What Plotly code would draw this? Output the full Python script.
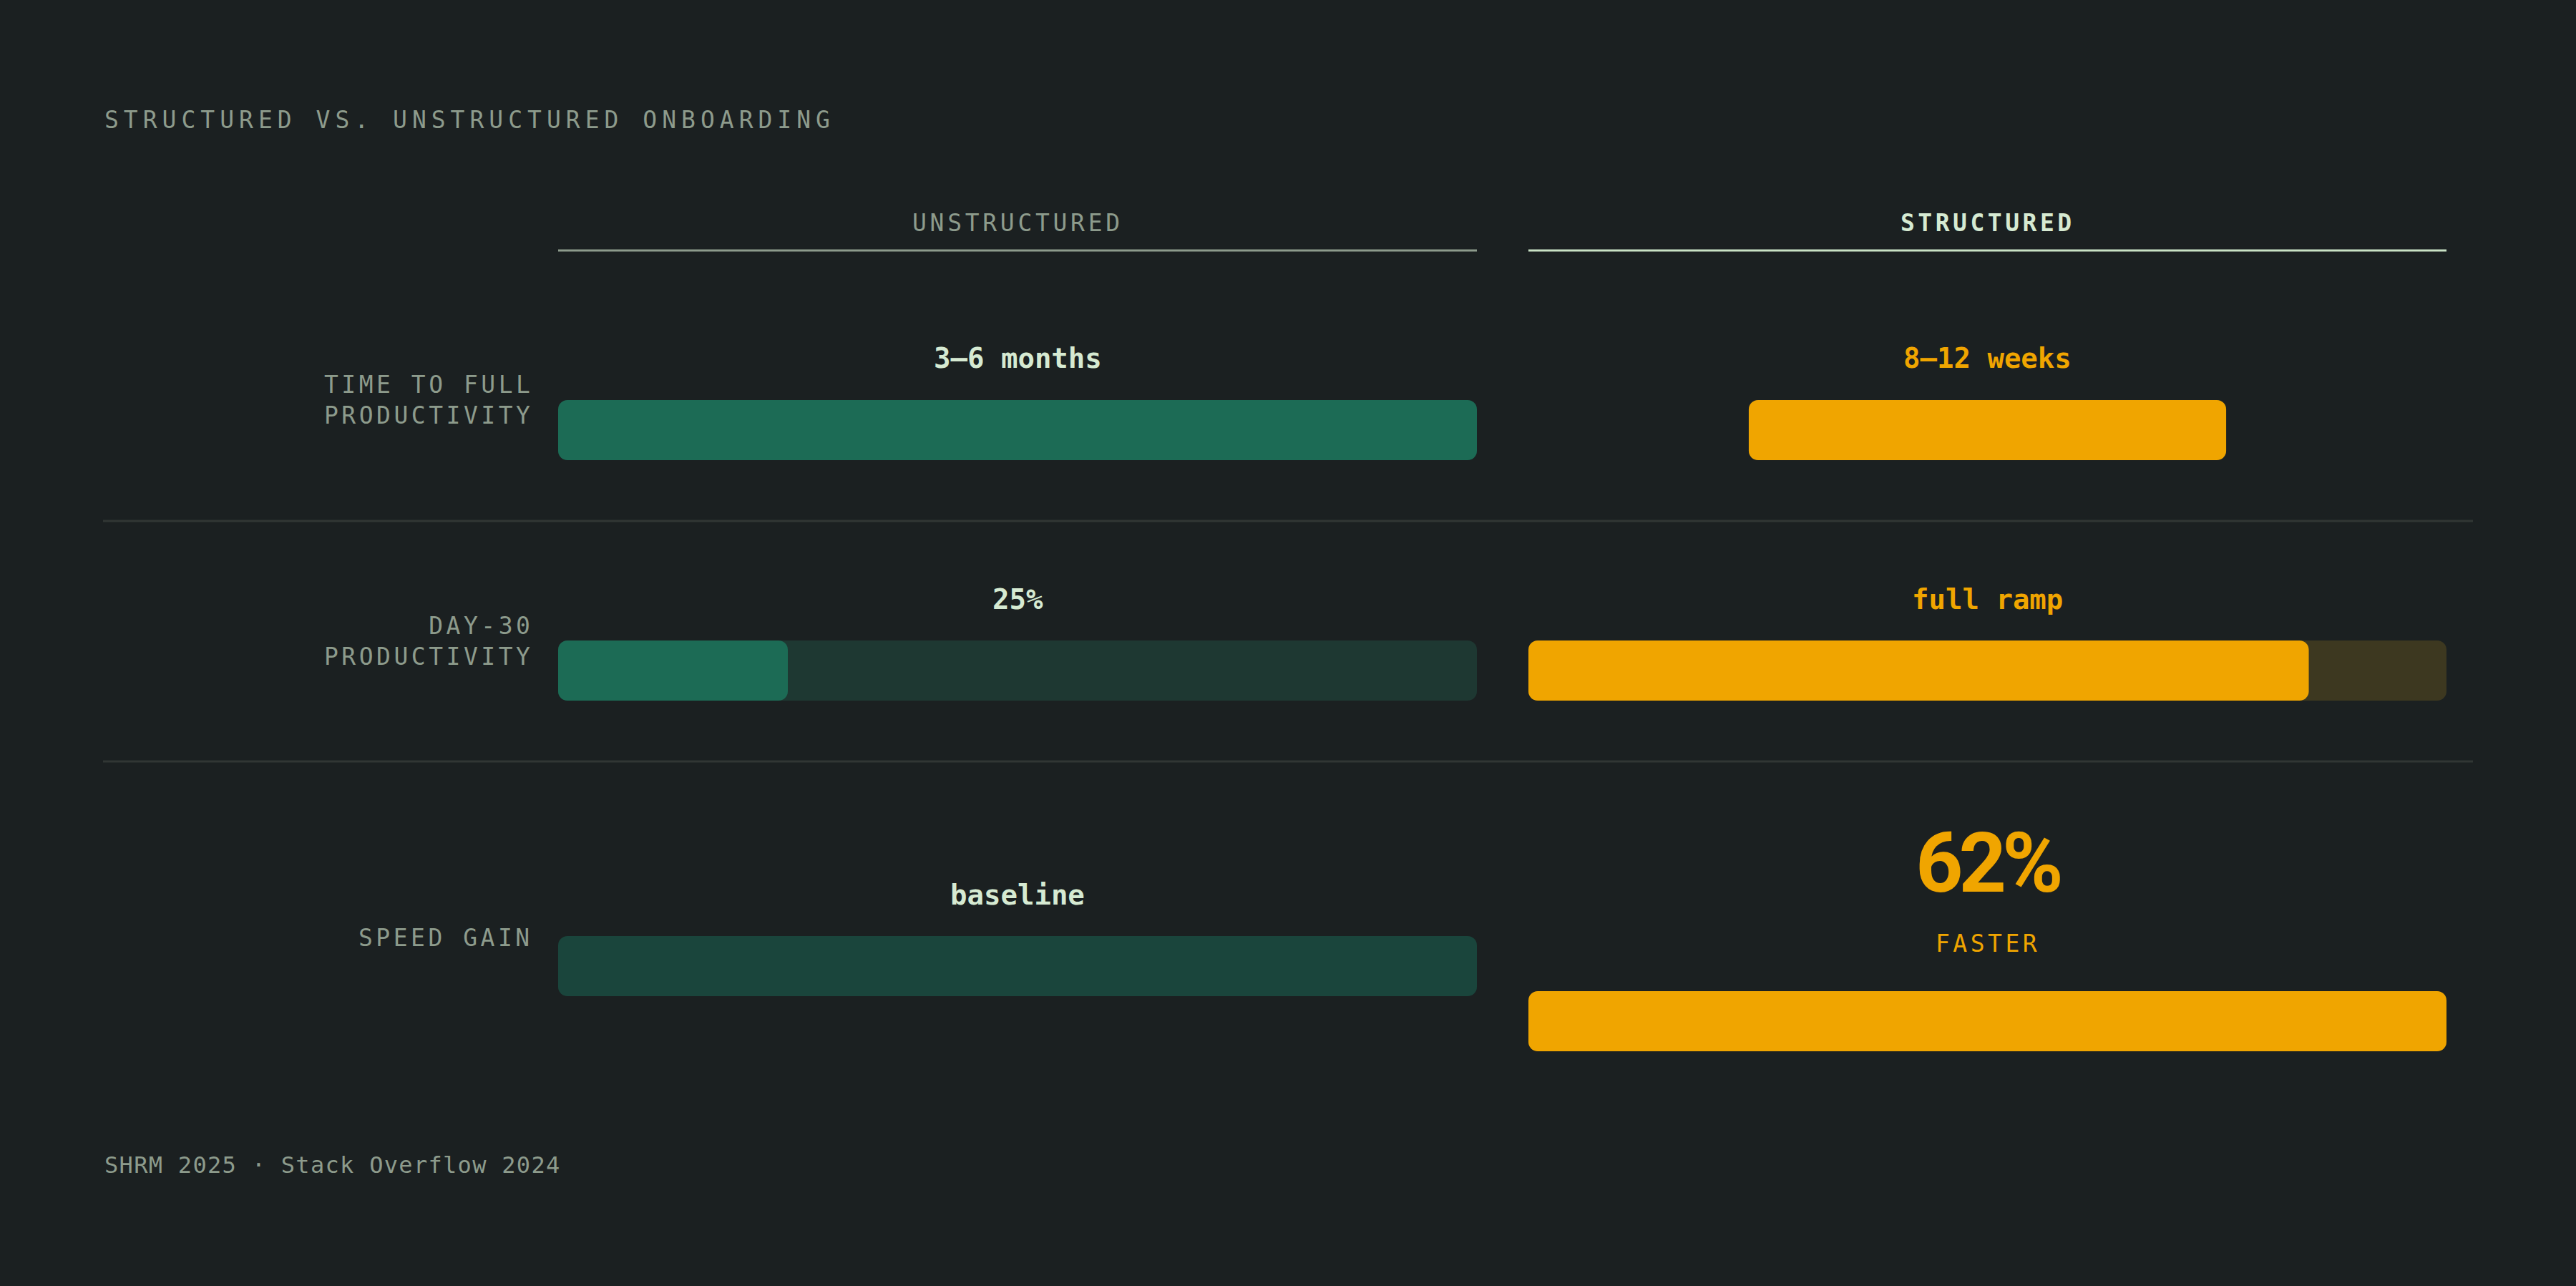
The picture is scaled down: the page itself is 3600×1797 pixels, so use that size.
import plotly.graph_objects as go

W, H = 3600, 1797

# ---------------- data ----------------
title = "STRUCTURED VS. UNSTRUCTURED ONBOARDING"
footer = "SHRM 2025 · Stack Overflow 2024"
columns = ["UNSTRUCTURED", "STRUCTURED"]
categories = ["TIME TO FULL<br>PRODUCTIVITY", "DAY-30<br>PRODUCTIVITY", "SPEED GAIN"]
unstructured_labels = ["3–6 months", "25%", "baseline"]
structured_labels = ["8–12 weeks", "full ramp", "62%"]
unstructured_values = [1.0, 0.25, 1.0]
structured_values = [0.52, 0.85, 1.0]
track_values = [None, 1.0, None]
speed_gain_sublabel = "FASTER"

# ---------------- layout / style ----------------
BG = "#1b2021"
GRAY = "#8d9b8c"
MINT = "#d6ead2"
ORANGE = "#f0a500"
GREEN_FILL = "#1c6b55"
GREEN_TRACK = "#1e3832"
GREEN_BASE = "#1a453c"
ORANGE_TRACK = "#3d3820"
SEP = "#313634"
MONO = "DejaVu Sans Mono"

bar_y_left = [601, 937, 1350]
bar_y_right = [601, 937, 1427]
label_y = [559, 896, 1310]
value_y_left = [500, 837, 1250]
value_y_right = [500, 837, 1206]
BAR_H = 84
RADIUS = 13

left_dom = [780 / W, 2064 / W]
right_dom = [2136 / W, 3419 / W]

fig = go.Figure()

# tracks
left_fill_colors = [GREEN_FILL, GREEN_FILL, GREEN_BASE]
for i, tv in enumerate(track_values):
    if tv is None:
        continue
    fig.add_trace(go.Bar(x=[tv], y=[bar_y_left[i]], base=[0], orientation="h",
                         width=BAR_H, marker=dict(color=GREEN_TRACK, cornerradius=RADIUS, line=dict(width=0)),
                         xaxis="x", yaxis="y", hoverinfo="skip", showlegend=False))
    fig.add_trace(go.Bar(x=[tv], y=[bar_y_right[i]], base=[0], orientation="h",
                         width=BAR_H, marker=dict(color=ORANGE_TRACK, cornerradius=RADIUS, line=dict(width=0)),
                         xaxis="x2", yaxis="y", hoverinfo="skip", showlegend=False))

# fills
for i, v in enumerate(unstructured_values):
    fig.add_trace(go.Bar(x=[v], y=[bar_y_left[i]], base=[0], orientation="h",
                         width=BAR_H, marker=dict(color=left_fill_colors[i], cornerradius=RADIUS, line=dict(width=0)),
                         xaxis="x", yaxis="y", hoverinfo="skip", showlegend=False))
for i, v in enumerate(structured_values):
    base = (1 - v) / 2 if track_values[i] is None and v < 1 else 0
    fig.add_trace(go.Bar(x=[v], y=[bar_y_right[i]], base=[base], orientation="h",
                         width=BAR_H, marker=dict(color=ORANGE, cornerradius=RADIUS, line=dict(width=0)),
                         xaxis="x2", yaxis="y", hoverinfo="skip", showlegend=False))


def spaced(text, px):
    return f'<span style="letter-spacing:{px}px">{text}</span>'


ann = []
# title
ann.append(dict(text=spaced(title, 7), x=144 / W, xref="paper", y=167, yref="y",
                xanchor="left", yanchor="middle", showarrow=False,
                font=dict(family=MONO, size=33, color=GRAY)))
# footer
ann.append(dict(text=spaced(footer, 1.3), x=144 / W, xref="paper", y=1628, yref="y",
                xanchor="left", yanchor="middle", showarrow=False,
                font=dict(family=MONO, size=32, color=GRAY)))
# column headers
ann.append(dict(text=spaced(columns[0], 4.7), x=0.5, xref="x", y=311, yref="y",
                xanchor="center", yanchor="middle", showarrow=False,
                font=dict(family=MONO, size=33, color=GRAY)))
ann.append(dict(text=spaced("<b>" + columns[1] + "</b>", 4.5), x=0.5, xref="x2", y=311, yref="y",
                xanchor="center", yanchor="middle", showarrow=False,
                font=dict(family=MONO, size=33, color=MINT)))
# row labels
for i, c in enumerate(categories):
    ann.append(dict(text=spaced(c, 4.5), x=747 / W, xref="paper", y=label_y[i], yref="y",
                    xanchor="right", yanchor="middle", showarrow=False, align="right",
                    font=dict(family=MONO, size=33, color=GRAY)))
# value labels
for i, t in enumerate(unstructured_labels):
    ann.append(dict(text="<b>" + t + "</b>", x=0.5, xref="x", y=value_y_left[i], yref="y",
                    xanchor="center", yanchor="middle", showarrow=False,
                    font=dict(family=MONO, size=39, color=MINT)))
for i, t in enumerate(structured_labels):
    if i == 2:
        ann.append(dict(text=spaced("<b>" + t + "</b>", -6), x=0.5, xref="x2", y=value_y_right[i], yref="y",
                        xanchor="center", yanchor="middle", showarrow=False,
                        font=dict(family="Roboto", size=116, color=ORANGE)))
        ann.append(dict(text=spaced(speed_gain_sublabel, 4.5), x=0.5, xref="x2", y=1318, yref="y",
                        xanchor="center", yanchor="middle", showarrow=False,
                        font=dict(family=MONO, size=33, color=ORANGE)))
    else:
        ann.append(dict(text="<b>" + t + "</b>", x=0.5, xref="x2", y=value_y_right[i], yref="y",
                        xanchor="center", yanchor="middle", showarrow=False,
                        font=dict(family=MONO, size=39, color=ORANGE)))

shapes = [
    dict(type="line", xref="x", yref="y", x0=0, x1=1, y0=350, y1=350, line=dict(color=GRAY, width=3)),
    dict(type="line", xref="x2", yref="y", x0=0, x1=1, y0=350, y1=350, line=dict(color="#c9e2c5", width=3)),
    dict(type="line", xref="paper", yref="y", x0=144 / W, x1=3456 / W, y0=728, y1=728, line=dict(color=SEP, width=3)),
    dict(type="line", xref="paper", yref="y", x0=144 / W, x1=3456 / W, y0=1064, y1=1064, line=dict(color=SEP, width=3)),
]

fig.update_layout(
    width=W, height=H, margin=dict(l=0, r=0, t=0, b=0),
    paper_bgcolor=BG, plot_bgcolor=BG,
    barmode="overlay", showlegend=False, hovermode=False,
    xaxis=dict(domain=left_dom, range=[0, 1], visible=False, fixedrange=True, anchor="y"),
    xaxis2=dict(domain=right_dom, range=[0, 1], visible=False, fixedrange=True, anchor="y"),
    yaxis=dict(domain=[0, 1], range=[H, 0], visible=False, fixedrange=True),
    annotations=ann, shapes=shapes,
)

fig.write_html(
    "out.html",
    config={"displayModeBar": False},
    post_script="document.body.style.margin='0';document.body.style.overflow='hidden';"
                "document.body.style.background='" + BG + "';",
)
